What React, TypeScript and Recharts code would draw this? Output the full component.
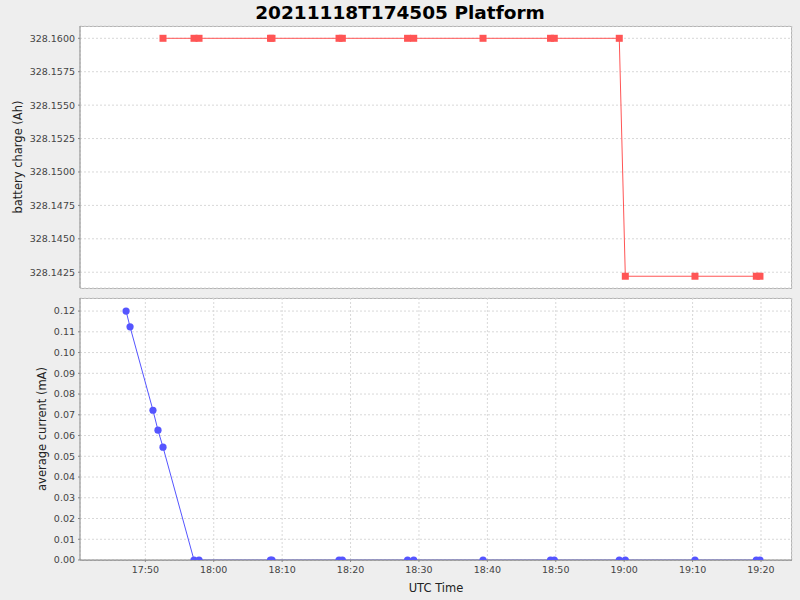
import React from 'react';
import { LineChart, Line, XAxis, YAxis, CartesianGrid, Label } from 'recharts';

// sample times (UTC)
const times = [
  '17:47:11', '17:47:46', '17:51:07', '17:51:51', '17:52:35',
  '17:57:07', '17:57:51', '18:08:18', '18:08:31', '18:18:19',
  '18:18:48', '18:28:20', '18:29:14', '18:39:22', '18:49:14',
  '18:49:47', '18:59:17', '19:00:10', '19:10:21', '19:19:19',
  '19:19:51',
];

// battery charge (Ah)
const charge = [
  null, null, null, null, 328.16,
  328.16, 328.16, 328.16, 328.16, 328.16,
  328.16, 328.16, 328.16, 328.16, 328.16,
  328.16, 328.16, 328.1422, 328.1422, 328.1422,
  328.1422,
];

// average current (mA)
const current = [
  0.12, 0.1124, 0.0722, 0.0626, 0.0544,
  0, 0, 0, 0, 0,
  0, 0, 0, 0, 0,
  0, 0, 0, 0, 0,
  0,
];

const timeTicks = ['17:50', '18:00', '18:10', '18:20', '18:30', '18:40', '18:50', '19:00', '19:10', '19:20'];
const chargeTicks = ['328.1425', '328.1450', '328.1475', '328.1500', '328.1525', '328.1550', '328.1575', '328.1600'];
const currentTicks = ['0.00', '0.01', '0.02', '0.03', '0.04', '0.05', '0.06', '0.07', '0.08', '0.09', '0.10', '0.11', '0.12'];

const toSec = (s: string) => {
  const p = s.split(':').map(Number);
  return p[0] * 3600 + p[1] * 60 + (p[2] || 0);
};
const fmtTime = (v: number) => {
  const h = Math.floor(v / 3600);
  const m = Math.round((v - h * 3600) / 60);
  return `${h}:${String(m).padStart(2, '0')}`;
};

const rows = times.map((t, i) => ({ t: toSec(t), charge: charge[i], current: current[i] }));
const xDomain = [toSec('17:40:27'), toSec('19:24:32')];
const xTicks = timeTicks.map(toSec);

const FONT = '"DejaVu Sans", sans-serif';
const tickStyle = { fontSize: 9.5, fill: '#444', fontFamily: FONT };
const gridColor = '#d8d8d8';
const axisColor = '#888888';

const Square = (props: any) => {
  const { cx, cy, index } = props;
  if (cx == null || cy == null || props.value == null) return <g key={`s-${index}`} />;
  return <rect key={`s-${index}`} x={cx - 3.5} y={cy - 3.5} width={7} height={7} fill="#ff5555" />;
};
const Dot = (props: any) => {
  const { cx, cy, index } = props;
  if (cx == null || cy == null) return <g key={`d-${index}`} />;
  return <circle key={`d-${index}`} cx={cx} cy={cy} r={3.6} fill="#5555ff" />;
};

const sideLabel = (text: string, x: number) => (props: any) => {
  const vb = props.viewBox || {};
  const cy = vb.y + vb.height / 2;
  return (
    <text
      x={x}
      y={cy}
      transform={`rotate(-90 ${x} ${cy})`}
      textAnchor="middle"
      dominantBaseline="central"
      style={{ fontSize: 11.5, fill: '#222', fontFamily: FONT }}
    >
      {text}
    </text>
  );
};

const plotBox = (top: number): React.CSSProperties => ({
  position: 'absolute',
  left: 80,
  top,
  width: 711,
  height: 261,
  background: '#ffffff',
  border: '1px solid #b4b4b4',
  borderLeft: 'none',
});

export default function App() {
  return (
    <div style={{ position: 'relative', width: 800, height: 600, background: '#eeeeee', overflow: 'hidden' }}>
      <style>{'body{margin:0}'}</style>
      <div
        style={{
          position: 'absolute',
          top: 1,
          left: 0,
          width: 800,
          textAlign: 'center',
          fontFamily: FONT,
          fontWeight: 'bold',
          fontSize: 18.5,
          lineHeight: '24px',
          color: '#000',
        }}
      >
        20211118T174505 Platform
      </div>

      <div style={plotBox(26)} />
      <div style={plotBox(298)} />

      <div style={{ position: 'absolute', left: 0, top: 0 }}>
        <LineChart width={800} height={300} data={rows} margin={{ top: 26, right: 8, left: 0, bottom: 12 }}>
          <CartesianGrid stroke={gridColor} strokeDasharray="2 2" />
          <XAxis
            dataKey="t"
            type="number"
            domain={xDomain}
            ticks={xTicks}
            allowDataOverflow
            height={0}
            tick={false}
            axisLine={false}
            tickLine={false}
          />
          <YAxis
            type="number"
            domain={[328.14132, 328.16092]}
            ticks={chargeTicks.map(Number)}
            allowDataOverflow
            width={80}
            tickFormatter={(v: number) => v.toFixed(4)}
            tick={tickStyle}
            tickSize={2}
            tickMargin={3}
            stroke={axisColor}
            interval={0}
          >
            <Label content={sideLabel('battery charge (Ah)', 18)} />
          </YAxis>
          <Line
            dataKey="charge"
            stroke="#ff5555"
            strokeWidth={1}
            dot={Square}
            activeDot={false}
            isAnimationActive={false}
            type="linear"
          />
        </LineChart>
      </div>

      <div style={{ position: 'absolute', left: 0, top: 290 }}>
        <LineChart width={800} height={310} data={rows} margin={{ top: 8, right: 8, left: 0, bottom: 0 }}>
          <CartesianGrid stroke={gridColor} strokeDasharray="2 2" />
          <XAxis
            dataKey="t"
            type="number"
            domain={xDomain}
            ticks={xTicks}
            allowDataOverflow
            height={40}
            tickFormatter={fmtTime}
            tick={tickStyle}
            tickSize={2}
            tickMargin={4}
            stroke={axisColor}
            interval={0}
          >
            <Label value="UTC Time" position="insideBottom" offset={8} style={{ fontSize: 11.5, fill: '#222', fontFamily: FONT }} />
          </XAxis>
          <YAxis
            type="number"
            domain={[0, 0.1263]}
            ticks={currentTicks.map(Number)}
            allowDataOverflow
            width={80}
            tickFormatter={(v: number) => v.toFixed(2)}
            tick={tickStyle}
            tickSize={2}
            tickMargin={3}
            stroke={axisColor}
            interval={0}
          >
            <Label content={sideLabel('average current (mA)', 42)} />
          </YAxis>
          <Line
            dataKey="current"
            stroke="#5555ff"
            strokeWidth={1}
            dot={Dot}
            activeDot={false}
            isAnimationActive={false}
            type="linear"
          />
        </LineChart>
      </div>
    </div>
  );
}
